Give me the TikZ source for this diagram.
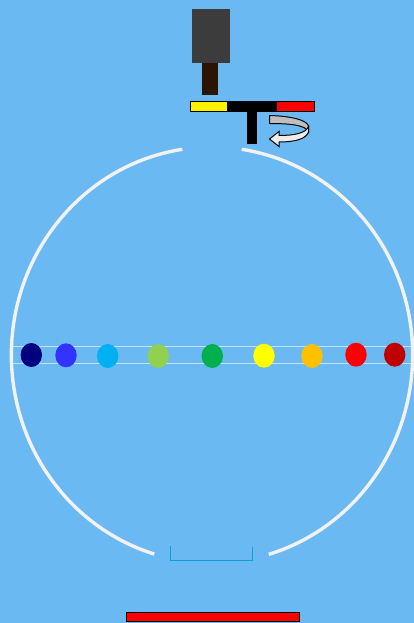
\documentclass[tikz,border=0pt]{standalone}
\usepackage{tikz}
\definecolor{skyback}{HTML}{6BB9F2}
\definecolor{slidegrey}{HTML}{3C3C3C}
\definecolor{slitbrown}{HTML}{2B1400}
\definecolor{armgrey}{HTML}{BFBFBF}
\definecolor{trayblue}{HTML}{0F9ED5}
\tikzset{
  sphereline/.style={line width=3.4pt,draw=white!95!black},
  beamline/.style={draw=white,opacity=0.6},
  barpart/.style={draw=black,line width=1pt},
}
\begin{document}
\begin{tikzpicture}[x=1pt,y=-1pt]
\useasboundingbox (0,0) rectangle (414,623);
\fill[skyback] (0,0) rectangle (414,623);
% sphere, two halves
\draw[sphereline] (182.3,149.3) arc[start angle=98.6,end angle=253.2,x radius=201pt,y radius=208pt];
\draw[sphereline] (241.7,149.3) arc[start angle=81.4,end angle=-73.5,x radius=201pt,y radius=208pt];
% beam
\draw[beamline,line width=1.5pt] (12,346.7) -- (413,346.7);
\draw[beamline,line width=1pt] (12,363) -- (413,363);
% colour dots
\foreach \px/\py/\col in {31.3/355/000080,66/355.3/3333FF,107.7/356/00B0F0,158.3/356/92D050,212.3/356/00B050,264/355.7/FFFF00,312/356/FFC000,356/354.7/FF0000,394.7/354.7/C00000}{
  \definecolor{dotcol}{HTML}{\col}
  \fill[dotcol] (\px,\py) ellipse[x radius=10.7pt,y radius=12pt];
}
% lamp
\fill[slidegrey] (192,9) rectangle (230,63);
\fill[slitbrown] (202,63) rectangle (218,95);
% rotating bar
\draw[barpart,fill=yellow] (190,102) rectangle (227.5,111.5);
\draw[barpart,fill=black] (227.5,102) rectangle (276,111.5);
\draw[barpart,fill=red] (276,102) rectangle (314,111.5);
\fill[black] (246.8,101.5) rectangle (257.2,144);
% turn arrow
\draw[black,line width=1pt,fill=armgrey] (269.5,115.5) .. controls (290,116) and (308,120) .. (308.5,126.5)
  -- (308.5,132) .. controls (306,125) and (290,123.5) .. (269.5,123.5) -- cycle;
\draw[black,line width=1pt,fill=white!93!black] (308.5,132) .. controls (306,139) and (295,142) .. (279,142)
  -- (279,146.5) -- (269.5,139) -- (279,131.5) -- (279,135.5) .. controls (295,135.5) and (306,133) .. (308.5,126.5) -- cycle;
% tray
\draw[trayblue,line width=1.1pt] (170.3,546) -- (170.3,560.7) -- (252.3,560.7) -- (252.3,547);
% bottom bar
\draw[black,line width=1.2pt,fill=red] (126.8,612.4) rectangle (299.3,621.8);
\end{tikzpicture}
\end{document}
